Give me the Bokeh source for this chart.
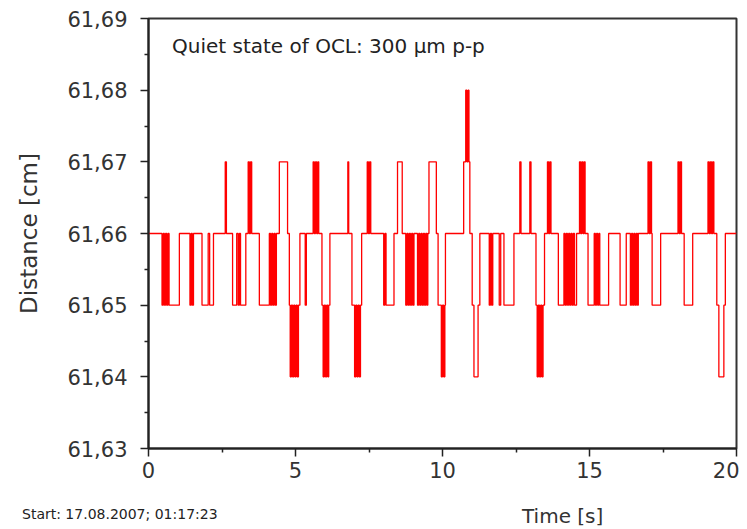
from bokeh.plotting import figure
from bokeh.models import Range1d, FixedTicker, CustomJSTickFormatter, Label, Div
from bokeh.layouts import column
from bokeh.embed import file_html
from bokeh.resources import INLINE

# Change times [s] and the distance level [cm] held from that time on (step signal)
time_s = [
    0.00, 0.46, 0.50, 0.54, 0.58, 0.62, 0.66, 0.70, 1.05, 1.41, 1.45, 1.49, 1.53,
    1.82, 2.03, 2.08, 2.21, 2.61, 2.65, 2.86, 3.00, 3.05, 3.09, 3.13, 3.31, 3.39,
    3.43, 3.47, 3.51, 3.77, 4.11, 4.15, 4.19, 4.23, 4.27, 4.31, 4.35, 4.45, 4.73,
    4.79, 4.82, 4.86, 4.90, 4.94, 4.98, 5.02, 5.06, 5.10, 5.15, 5.33, 5.37, 5.60,
    5.64, 5.68, 5.72, 5.76, 5.79, 5.90, 5.94, 5.98, 6.02, 6.06, 6.10, 6.13, 6.17,
    6.78, 6.81, 6.92, 7.01, 7.05, 7.09, 7.13, 7.17, 7.21, 7.25, 7.44, 7.48, 7.52,
    7.56, 8.00, 8.04, 8.08, 8.35, 8.47, 8.63, 8.75, 8.79, 8.83, 8.87, 8.91, 8.95,
    8.99, 9.03, 9.15, 9.19, 9.23, 9.27, 9.31, 9.35, 9.39, 9.43, 9.47, 9.50, 9.54,
    9.79, 9.85, 9.96, 10.00, 10.04, 10.08, 10.10, 10.72, 10.79, 10.83, 10.87,
    10.90, 10.93, 11.01, 11.07, 11.21, 11.27, 11.59, 11.63, 11.67, 11.71, 11.93,
    11.98, 12.09, 12.43, 12.63, 12.67, 12.97, 13.01, 13.18, 13.22, 13.26, 13.30,
    13.34, 13.38, 13.42, 13.47, 13.57, 13.61, 13.65, 13.69, 13.94, 14.13, 14.17,
    14.21, 14.25, 14.29, 14.33, 14.37, 14.41, 14.45, 14.49, 14.56, 14.66, 14.70,
    14.74, 14.78, 14.82, 14.85, 14.95, 15.16, 15.20, 15.24, 15.28, 15.32, 15.35,
    15.65, 16.04, 16.25, 16.39, 16.43, 16.47, 16.51, 16.55, 16.59, 16.63, 16.66,
    16.99, 17.03, 17.07, 17.11, 17.13, 17.42, 18.01, 18.05, 18.09, 18.13, 18.22,
    18.51, 19.03, 19.07, 19.11, 19.15, 19.19, 19.23, 19.33, 19.40, 19.57, 19.62,
    20.00,
]
distance_cm = [
    61.66, 61.65, 61.66, 61.65, 61.66, 61.65, 61.66, 61.65, 61.66, 61.65, 61.66, 61.65, 61.66,
    61.65, 61.66, 61.65, 61.66, 61.67, 61.66, 61.65, 61.66, 61.65, 61.66, 61.65, 61.66, 61.67,
    61.66, 61.67, 61.66, 61.65, 61.66, 61.65, 61.66, 61.65, 61.66, 61.65, 61.66, 61.67, 61.66,
    61.65, 61.64, 61.65, 61.64, 61.65, 61.64, 61.65, 61.64, 61.65, 61.66, 61.65, 61.66, 61.67,
    61.66, 61.67, 61.66, 61.67, 61.66, 61.65, 61.64, 61.65, 61.64, 61.65, 61.64, 61.65, 61.66,
    61.67, 61.66, 61.65, 61.64, 61.65, 61.64, 61.65, 61.64, 61.65, 61.66, 61.67, 61.66, 61.67,
    61.66, 61.65, 61.66, 61.65, 61.66, 61.67, 61.66, 61.65, 61.66, 61.65, 61.66, 61.65, 61.66,
    61.65, 61.66, 61.65, 61.66, 61.65, 61.66, 61.65, 61.66, 61.65, 61.66, 61.65, 61.66, 61.67,
    61.66, 61.65, 61.64, 61.65, 61.64, 61.65, 61.66, 61.67, 61.68, 61.67, 61.68,
    61.67, 61.66, 61.65, 61.64, 61.65, 61.66, 61.65, 61.66, 61.65, 61.66, 61.65,
    61.66, 61.65, 61.66, 61.67, 61.66, 61.67, 61.66, 61.65, 61.64, 61.65, 61.64,
    61.65, 61.64, 61.65, 61.66, 61.67, 61.66, 61.67, 61.66, 61.65, 61.66, 61.65,
    61.66, 61.65, 61.66, 61.65, 61.66, 61.65, 61.66, 61.65, 61.66, 61.67, 61.66,
    61.67, 61.66, 61.67, 61.66, 61.65, 61.66, 61.65, 61.66, 61.65, 61.66, 61.65,
    61.66, 61.65, 61.66, 61.65, 61.66, 61.65, 61.66, 61.65, 61.66, 61.65, 61.66,
    61.67, 61.66, 61.67, 61.66, 61.65, 61.66, 61.67, 61.66, 61.67, 61.66, 61.65,
    61.66, 61.67, 61.66, 61.67, 61.66, 61.67, 61.66, 61.65, 61.64, 61.65, 61.66,
    61.66,
]

x_ticks = [0, 5, 10, 15, 20]
y_ticks = [61.63, 61.64, 61.65, 61.66, 61.67, 61.68, 61.69]
title_text = "Quiet state of OCL: 300 \u00b5m p-p"
start_text = "Start: 17.08.2007; 01:17:23"
x_label = "Time [s]"
y_label = "Distance [cm]"

FONT = "DejaVu Sans"

p = figure(width=739, height=486, output_backend="svg", toolbar_location=None,
           x_range=Range1d(0, 20), y_range=Range1d(61.63, 61.69),
           min_border_left=148, min_border_right=3, min_border_top=18,
           min_border_bottom=38)
p.background_fill_color = "white"
p.border_fill_color = "white"
p.grid.visible = False
p.outline_line_color = "#333333"
p.outline_line_width = 2

p.step(x=time_s, y=distance_cm, mode="after", line_color="#ff0000", line_width=1.3)

# axes
for ax in (p.xaxis[0], p.yaxis[0]):
    ax.axis_line_color = "#222222"
    ax.axis_line_width = 2
    ax.major_tick_line_color = "#222222"
    ax.minor_tick_line_color = "#222222"
    ax.major_tick_line_width = 1.5
    ax.minor_tick_line_width = 1.5
    ax.major_tick_out = 8
    ax.major_tick_in = 0
    ax.minor_tick_out = 4
    ax.minor_tick_in = 0
    ax.major_label_text_font = FONT
    ax.major_label_text_color = "#333333"
    ax.axis_label_text_font = FONT
    ax.axis_label_text_font_style = "normal"
    ax.axis_label_text_color = "#333333"

p.xaxis.ticker = FixedTicker(ticks=x_ticks, minor_ticks=[2.5, 7.5, 12.5, 17.5])
p.yaxis.ticker = FixedTicker(ticks=y_ticks,
                             minor_ticks=[61.635, 61.645, 61.655, 61.665, 61.675, 61.685])
p.yaxis.formatter = CustomJSTickFormatter(code="return tick.toFixed(2).replace('.', ',');")
p.xaxis.major_label_text_font_size = "21px"
p.yaxis.major_label_text_font_size = "21px"
p.xaxis.major_label_standoff = 5
p.yaxis.major_label_standoff = 13
p.yaxis.axis_label = y_label
p.yaxis.axis_label_text_font_size = "23px"
p.yaxis.axis_label_standoff = 22

p.add_layout(Label(x=0.8, y=61.6862, text=title_text, text_font=FONT,
                   text_font_size="20px", text_color="#222222",
                   text_baseline="middle", text_align="left"))

# row under the chart: start stamp at far left, x-axis title right of centre
footer_html = (
    '<div style="position:relative;width:739px;height:40px;font-family:\'DejaVu Sans\';">'
    '<span style="position:absolute;left:22px;top:21px;font-size:14px;line-height:14px;'
    'color:#222222;white-space:nowrap;">' + start_text + '</span>'
    '<span style="position:absolute;left:522px;width:80px;text-align:center;top:19px;'
    'font-size:20px;line-height:22px;color:#333333;white-space:nowrap;">' + x_label + '</span>'
    '</div>'
)
footer = Div(text=footer_html, width=739, height=40, margin=0)

layout = column(p, footer, spacing=0)

open("out.html", "w").write(file_html(layout, INLINE))
